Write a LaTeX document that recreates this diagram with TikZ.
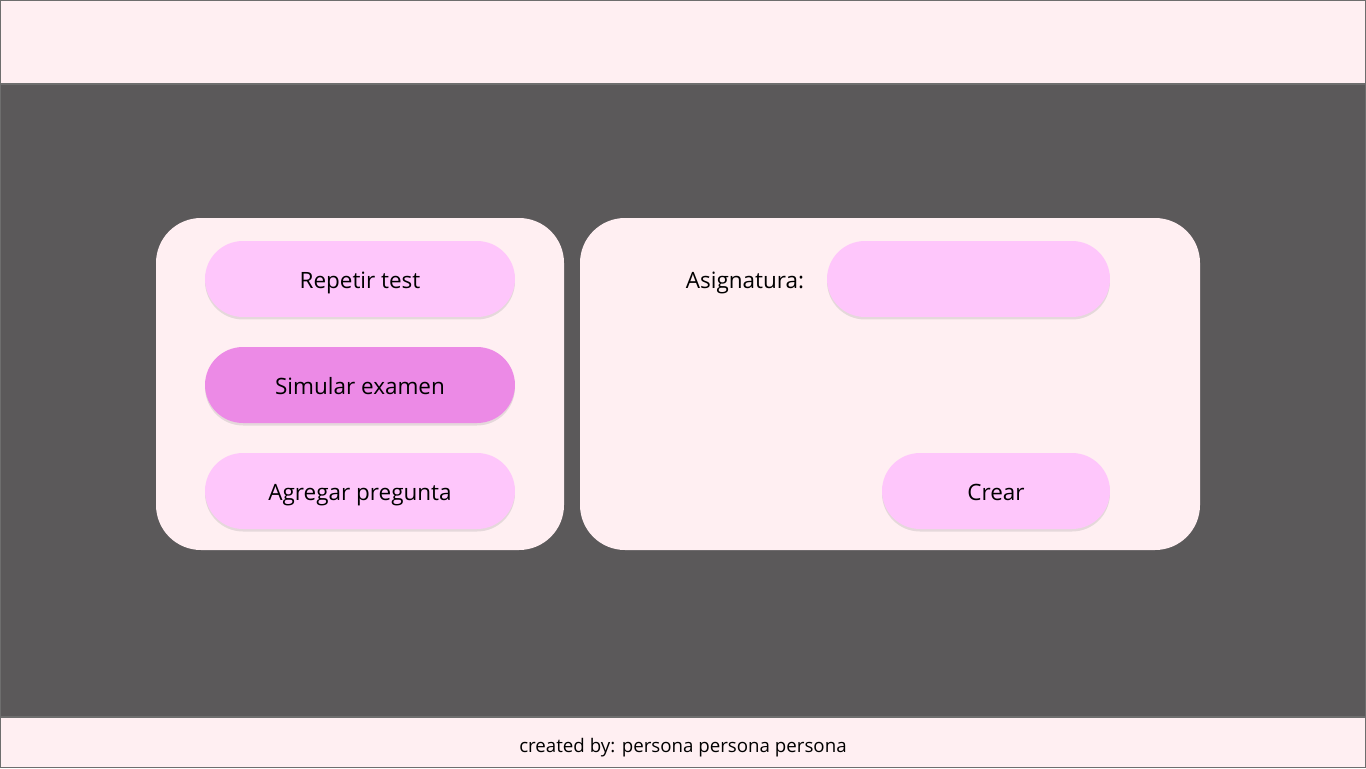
\documentclass[tikz,border=0pt]{standalone}
\usepackage{fontspec}
\setmainfont{Open Sans}
\usetikzlibrary{shadows}

\definecolor{bgdark}{HTML}{5B595A}
\definecolor{barpink}{HTML}{FFEFF2}
\definecolor{barline}{HTML}{6E6E6E}
\definecolor{btnpink}{HTML}{FEC6FB}
\definecolor{btnactive}{HTML}{EC8AE6}

\tikzset{
	panel/.style={fill=barpink, rounded corners=0.9cm},
	label/.style={font=\fontsize{12.8}{15}\selectfont, inner sep=0pt,
		text height=1.1em, text depth=0em},
	btn/.style={label, fill=btnpink, rounded corners=0.76cm, minimum height=1.52cm,
		drop shadow={shadow xshift=0pt, shadow yshift=-0.05cm, opacity=0.2, fill=black!50}}
}

\begin{document}
\begin{tikzpicture}[x=0.02cm, y=-0.02cm]
			\useasboundingbox (0, 0) rectangle (1366, 768);
			\fill[bgdark] (0, 0) rectangle (1366, 768);
			
			\coordinate (T1) at (0.5, 0.5);
			\coordinate (T2) at (1365.5, 84);
			\coordinate (F1) at (0.5, 717);
			\coordinate (F2) at (1365.5, 767.5);
			\draw[barline, fill=barpink, line width=0.6pt] (T1) rectangle (T2);
			\draw[barline, fill=barpink, line width=0.6pt] (F1) rectangle (F2);
			\draw[barline, line width=0.6pt] (T1) rectangle (F2);
			
			\coordinate (L1) at (156, 218);
			\coordinate (L2) at (564, 550);
			\coordinate (R1) at (580, 218);
			\coordinate (R2) at (1200, 550);
			\fill[panel] (L1) rectangle (L2);
			\fill[panel] (R1) rectangle (R2);
			
			\node[btn, minimum width=6.2cm] (repetir) at (360, 279) {Repetir test};
			\node[btn, minimum width=6.2cm, fill=btnactive] (simular) at (360, 385) {Simular examen};
			\node[btn, minimum width=6.2cm] (agregar) at (360, 491) {Agregar pregunta};
			
			\node[label] (asig) at (745, 279) {Asignatura:};
			\node[btn, minimum width=5.66cm] (campo) at (968.5, 279) {};
			\node[btn, minimum width=4.56cm] (crear) at (996, 491) {Crear};
			
			\node[label, font=\fontsize{10.65}{13}\selectfont] (pie) at (683, 743) {created by: persona persona persona};
			\end{tikzpicture}
\end{document}
